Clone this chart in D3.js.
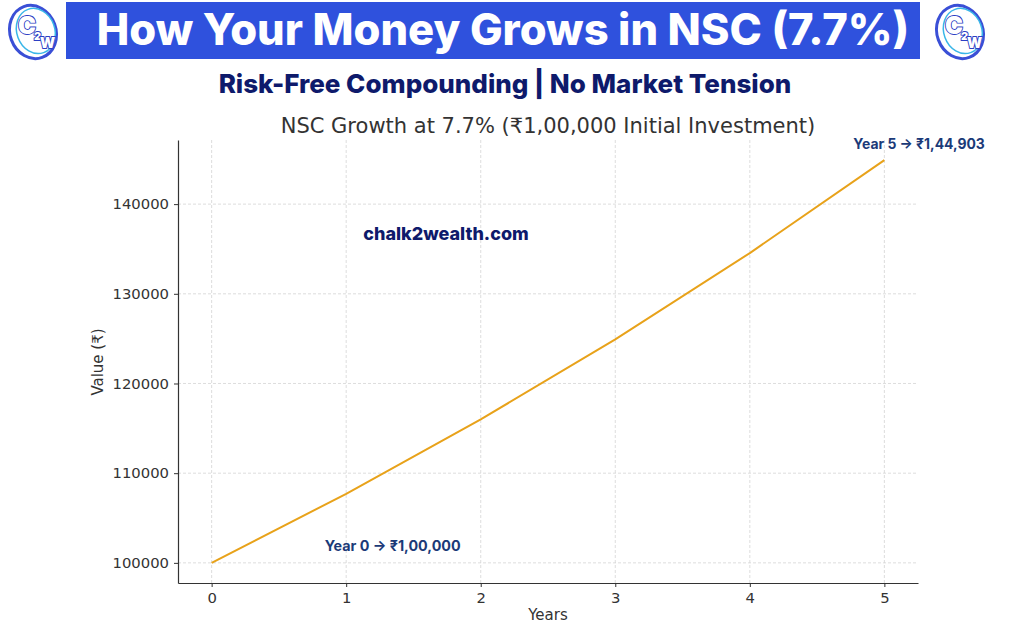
<!DOCTYPE html>
<html>
<head>
<meta charset="utf-8">
<script src="https://cdn.jsdelivr.net/npm/d3@7"></script>
<style>
  body { margin: 0; background: #fff; }
  svg { display: block; }
</style>
</head>
<body>
<svg></svg>
<script>
'use strict';

const svgWidth = 1026;
const svgHeight = 628;

// data
const years = [0, 1, 2, 3, 4, 5];
const values = [100000, 107700, 115993, 124924, 134543, 144903];
const xTicks = [0, 1, 2, 3, 4, 5];
const yTicks = [100000, 110000, 120000, 130000, 140000];
const startLabel = 'Year 0 → ₹1,00,000';
const endLabel = 'Year 5 → ₹1,44,903';

const svg = d3.select('svg')
  .attr('width', svgWidth)
  .attr('height', svgHeight);

const navy = '#0e1a6b';
const annoBlue = '#1b3a78';

// banner
svg.append('rect')
  .attr('x', 66).attr('y', 2)
  .attr('width', 854).attr('height', 57)
  .attr('fill', '#2f51dd');

svg.append('text')
  .attr('x', 503).attr('y', 45)
  .attr('text-anchor', 'middle')
  .attr('font-family', 'Inter, "Open Sans", sans-serif')
  .attr('font-weight', 800)
  .attr('font-size', '43.5px')
  .attr('fill', '#fff')
  .text('How Your Money Grows in NSC (7.7%)');

svg.append('text')
  .attr('x', 505).attr('y', 93)
  .attr('text-anchor', 'middle')
  .attr('font-family', 'Inter, "Open Sans", sans-serif')
  .attr('font-weight', 800)
  .attr('font-size', '26px')
  .attr('fill', navy)
  .text('Risk-Free Compounding | No Market Tension');

// logos: ring + "C2W" stepped down in one text
function logo(cx, cy) {
  let g = svg.append('g').attr('transform', `translate(${cx},${cy})`);
  g.append('ellipse')
    .attr('rx', 23).attr('ry', 27)
    .attr('transform', 'rotate(-20)')
    .attr('fill', 'none').attr('stroke', '#3a4fd6').attr('stroke-width', 3);
  g.append('ellipse')
    .attr('rx', 19).attr('ry', 23).attr('cx', 3)
    .attr('transform', 'rotate(-20)')
    .attr('fill', '#fff').attr('stroke', '#39b6e8').attr('stroke-width', 1.5);
  let t = g.append('text')
    .attr('x', -15).attr('y', 2)
    .attr('font-family', 'Inter, sans-serif').attr('font-weight', 900)
    .attr('fill', '#fff').attr('stroke', '#2c3fc4').attr('stroke-width', 1.8)
    .attr('paint-order', 'stroke');
  t.append('tspan').attr('font-size', '24px').text('C');
  t.append('tspan').attr('font-size', '11px').attr('dx', -2).attr('dy', 6).text('2');
  t.append('tspan').attr('font-size', '14px').attr('dx', -1).attr('dy', 8).text('W');
}
logo(33, 32);
logo(960, 32);

// chart
const x = d3.scaleLinear().domain([-0.25, 5.25]).range([178, 918]);
const y = d3.scaleLinear().domain([97755, 147148]).range([583, 140]);

const grid = svg.append('g')
  .attr('stroke', '#d4d4d4')
  .attr('stroke-width', 0.8)
  .attr('stroke-dasharray', '3,2');

grid.selectAll('.vx')
  .data(xTicks)
  .join('line')
  .attr('x1', d => x(d)).attr('x2', d => x(d))
  .attr('y1', 140).attr('y2', 583);

grid.selectAll('.hy')
  .data(yTicks)
  .join('line')
  .attr('x1', 178).attr('x2', 918)
  .attr('y1', d => y(d)).attr('y2', d => y(d));

const xAxis = svg.append('g')
  .attr('transform', 'translate(0,583)')
  .call(d3.axisBottom(x).tickValues(xTicks).tickFormat(d3.format('d'))
    .tickSize(4).tickPadding(5).tickSizeOuter(0));

const yAxis = svg.append('g')
  .attr('transform', 'translate(178,0)')
  .call(d3.axisLeft(y).tickValues(yTicks).tickFormat(d3.format('d'))
    .tickSize(4).tickPadding(5).tickSizeOuter(0));

[xAxis, yAxis].forEach(a => {
  a.selectAll('text')
    .attr('font-family', '"DejaVu Sans", sans-serif')
    .attr('font-size', '14.8px')
    .attr('fill', '#333');
  a.selectAll('line').attr('stroke', '#333');
  a.select('.domain').attr('stroke', '#333').attr('stroke-width', 1.2);
});

svg.append('path')
  .datum(years.map((yr, i) => [yr, values[i]]))
  .attr('fill', 'none')
  .attr('stroke', '#e8a21a')
  .attr('stroke-width', 2)
  .attr('d', d3.line().x(d => x(d[0])).y(d => y(d[1])));

// titles
svg.append('text')
  .attr('x', 548).attr('y', 133)
  .attr('text-anchor', 'middle')
  .attr('font-family', '"DejaVu Sans", sans-serif')
  .attr('font-size', '21px')
  .attr('fill', '#333')
  .text('NSC Growth at 7.7% (₹1,00,000 Initial Investment)');

svg.append('text')
  .attr('x', 548).attr('y', 620)
  .attr('text-anchor', 'middle')
  .attr('font-family', '"DejaVu Sans", sans-serif')
  .attr('font-size', '15px')
  .attr('fill', '#333')
  .text('Years');

svg.append('text')
  .attr('transform', 'translate(103,362) rotate(-90)')
  .attr('text-anchor', 'middle')
  .attr('font-family', '"DejaVu Sans", sans-serif')
  .attr('font-size', '15px')
  .attr('fill', '#333')
  .text('Value (₹)');

// annotations
svg.append('text')
  .attr('x', x(0) + 113).attr('y', 551)
  .attr('font-family', 'Inter, sans-serif')
  .attr('font-weight', 700)
  .attr('font-size', '14.3px')
  .attr('fill', annoBlue)
  .text(startLabel);

svg.append('text')
  .attr('x', x(5) - 31).attr('y', 149)
  .attr('font-family', 'Inter, sans-serif')
  .attr('font-weight', 700)
  .attr('font-size', '13.9px')
  .attr('fill', annoBlue)
  .text(endLabel);

svg.append('text')
  .attr('x', 446).attr('y', 240)
  .attr('text-anchor', 'middle')
  .attr('font-family', 'Inter, sans-serif')
  .attr('font-weight', 800)
  .attr('font-size', '18px')
  .attr('fill', navy)
  .text('chalk2wealth.com');
</script>
</body>
</html>
